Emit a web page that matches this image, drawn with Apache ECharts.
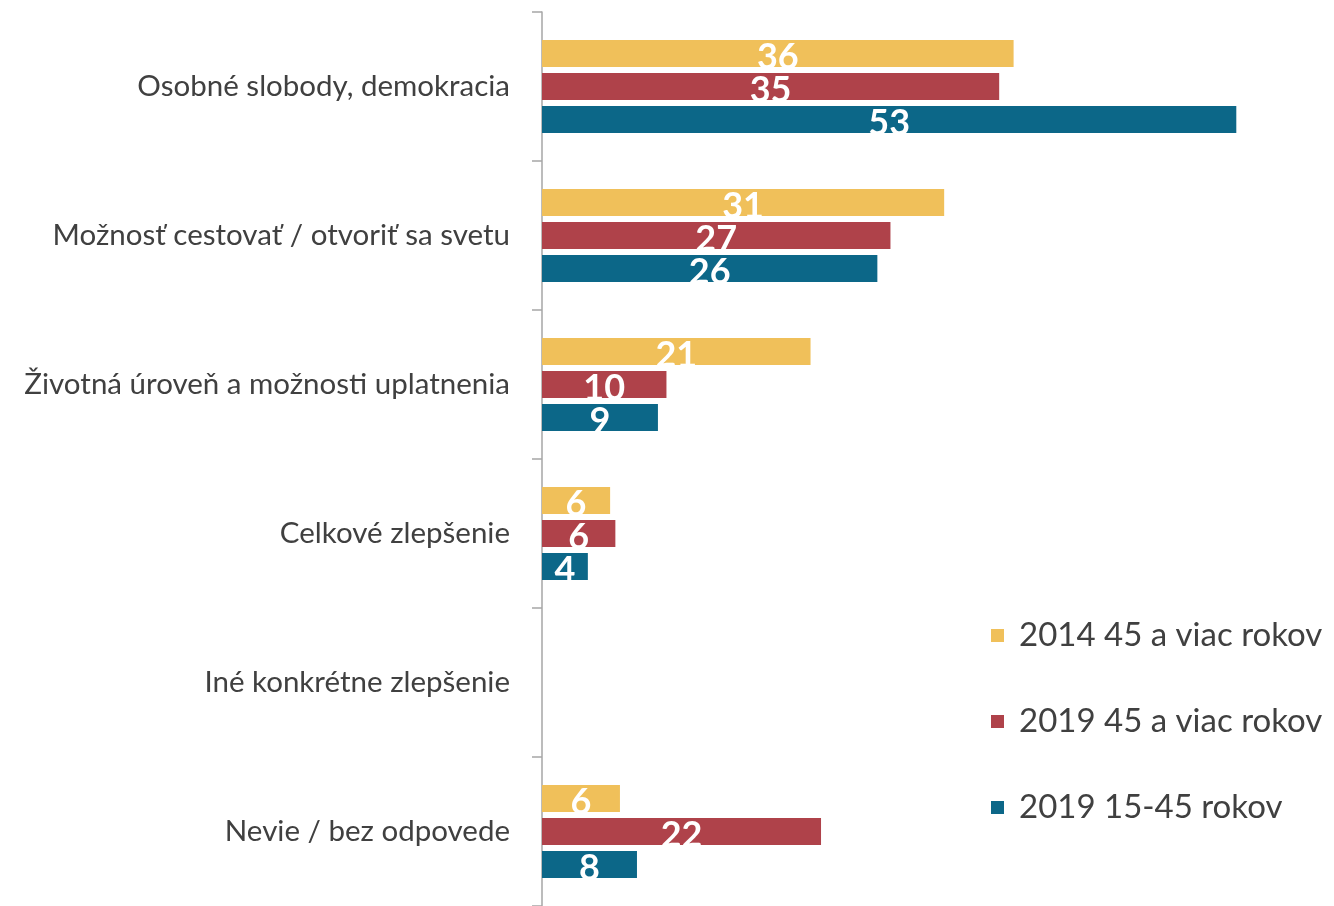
<!DOCTYPE html>
<html>
<head>
<meta charset="utf-8">
<script src="https://cdn.jsdelivr.net/npm/echarts@6/dist/echarts.min.js"></script>
<style>
  html, body { margin: 0; padding: 0; background: #fff; }
  #chart { width: 1334px; height: 906px; }
</style>
</head>
<body>
<div id="chart"></div>
<script>
const categories = [
  'Osobné slobody, demokracia',
  'Možnosť cestovať / otvoriť sa svetu',
  'Životná úroveň a možnosti uplatnenia',
  'Celkové zlepšenie',
  'Iné konkrétne zlepšenie',
  'Nevie / bez odpovede'
];
const seriesNames = ['2014 45 a viac rokov', '2019 45 a viac rokov', '2019 15-45 rokov'];
// bar lengths as measured on the picture
const v2014old = [36.0, 30.7, 20.5, 5.2, null, 5.95];
const v2019old = [34.9, 26.6, 9.5, 5.6, null, 21.3];
const v2019young = [53.0, 25.6, 8.85, 3.5, null, 7.25];
// numbers printed on the bars
const lab2014old = [36, 31, 21, 6, null, 6];
const lab2019old = [35, 27, 10, 6, null, 22];
const lab2019young = [53, 26, 9, 4, null, 8];
const colors = ['#F0C05A', '#AF424A', '#0C6788'];

const fontFam = 'Lato, sans-serif';
const chart = echarts.init(document.getElementById('chart'));

function makeSeries(name, data, labels, color) {
  return {
    name: name,
    type: 'bar',
    data: data,
    barWidth: 27,
    barGap: '22%',
    itemStyle: { color: color },
    label: {
      show: true,
      position: 'inside',
      offset: [0, 4],
      color: '#fff',
      fontFamily: fontFam,
      fontWeight: 'bold',
      fontSize: 36,
      formatter: p => labels[p.dataIndex]
    }
  };
}

chart.setOption({
  backgroundColor: '#fff',
  animation: false,
  grid: { left: 542, top: 12, width: 786, height: 896 },
  legend: {
    orient: 'vertical',
    left: 986,
    top: 614,
    itemWidth: 13,
    itemHeight: 13,
    itemGap: 53,
    icon: 'rect',
    textStyle: { fontFamily: fontFam, fontSize: 33, color: '#404040', padding: [0, 0, 0, 10] },
    data: seriesNames
  },
  xAxis: {
    type: 'value',
    min: 0,
    max: 60,
    show: false
  },
  yAxis: {
    type: 'category',
    inverse: true,
    offset: 3,
    data: categories,
    axisLine: { show: true, lineStyle: { color: '#A6A6A6', width: 1.5 } },
    axisTick: { show: true, length: 10, lineStyle: { color: '#A6A6A6', width: 1.5 } },
    axisLabel: { margin: 29, fontFamily: fontFam, fontSize: 29.5, color: '#404040' }
  },
  series: [
    makeSeries(seriesNames[0], v2014old, lab2014old, colors[0]),
    makeSeries(seriesNames[1], v2019old, lab2019old, colors[1]),
    makeSeries(seriesNames[2], v2019young, lab2019young, colors[2])
  ]
});
</script>
</body>
</html>
